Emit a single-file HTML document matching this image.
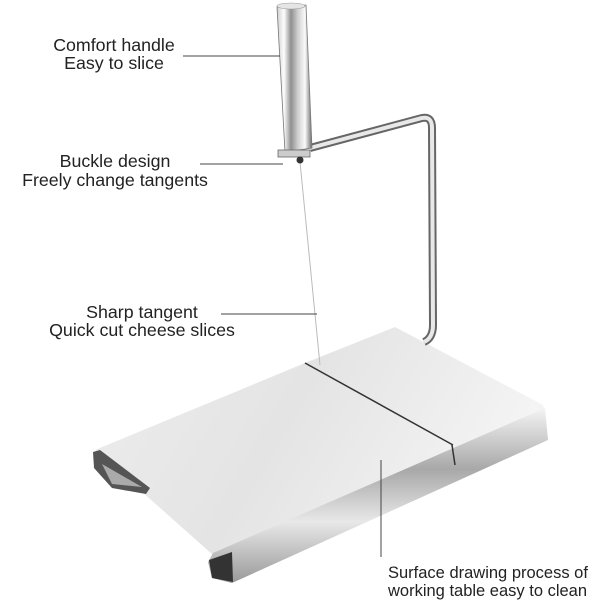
<!DOCTYPE html>
<html><head><meta charset="utf-8"><style>
html,body{margin:0;padding:0;background:#fff;}
svg{display:block;}
text{font-family:"Liberation Sans",sans-serif;font-size:17.8px;fill:#222;}
text.b{font-size:16.5px;}
</style></head><body>
<svg width="600" height="600" viewBox="0 0 600 600">
<defs>
<linearGradient id="cyl" x1="0" x2="1" y1="0" y2="0">
<stop offset="0" stop-color="#cfcfcf"/><stop offset="0.2" stop-color="#fdfdfd"/><stop offset="0.4" stop-color="#909090"/><stop offset="0.6" stop-color="#d0d0d0"/><stop offset="0.8" stop-color="#fafafa"/><stop offset="1" stop-color="#6a6a6a"/>
</linearGradient>
<linearGradient id="top" x1="0" x2="1" y1="0" y2="0.3">
<stop offset="0" stop-color="#ededed"/><stop offset="0.5" stop-color="#e4e4e4"/><stop offset="1" stop-color="#f4f4f4"/>
</linearGradient>
<linearGradient id="roll" x1="0" x2="0" y1="0" y2="1">
<stop offset="0" stop-color="#f4f4f4"/><stop offset="0.35" stop-color="#a8a8a8"/><stop offset="0.65" stop-color="#e8e8e8"/><stop offset="1" stop-color="#999"/>
</linearGradient>
</defs>
<polygon points="95,450 305,363 395,327 543,405 545,412 213,555" fill="url(#top)"/>
<polygon points="213,553 545,408 548,440 232,583 212,578 208,562" fill="url(#roll)"/>
<path d="M209,560 L232,552 L233,582 L212,578 Z" fill="#333"/>
<path d="M93,452 L100,450 L150,488 L146,494 L112,488 L94,468 Z" fill="#555"/>
<path d="M102,464 L142,487 L112,484 Z" fill="#aaa"/>
<line x1="305" y1="363" x2="453" y2="445" stroke="#333" stroke-width="1.5"/>
<line x1="452" y1="445" x2="455" y2="465" stroke="#333" stroke-width="1.5"/>
<line x1="300" y1="162" x2="320" y2="365" stroke="#bbb" stroke-width="1"/>
<path d="M310,148 L422,118 Q432,116 432,128 L433,325 Q433,338 424,342" fill="none" stroke="#666" stroke-width="8"/>
<path d="M310,148 L422,118 Q432,116 432,128 L433,325 Q433,338 424,342" fill="none" stroke="#e8e8e8" stroke-width="4"/>
<path d="M277,7 L306,5 L312,148 L285,152 Z" fill="url(#cyl)" stroke="#777" stroke-width="0.8"/>
<ellipse cx="291" cy="6" rx="14" ry="3" fill="#e5e5e5" stroke="#999" stroke-width="0.6"/>
<rect x="278" y="150" width="32" height="7" fill="#ccc" stroke="#666" stroke-width="0.8"/>
<circle cx="300" cy="160" r="3.5" fill="#333"/>
<text x="114" y="51" text-anchor="middle">Comfort handle</text>
<text x="114" y="69" text-anchor="middle">Easy to slice</text>
<line x1="183" y1="56" x2="280" y2="56" stroke="#444" stroke-width="1"/>
<text x="115" y="167" text-anchor="middle">Buckle design</text>
<text x="115" y="186" text-anchor="middle">Freely change tangents</text>
<line x1="200" y1="164" x2="283" y2="164" stroke="#444" stroke-width="1"/>
<text x="142" y="318" text-anchor="middle">Sharp tangent</text>
<text x="142" y="336" text-anchor="middle">Quick cut cheese slices</text>
<line x1="221" y1="314" x2="317" y2="314" stroke="#444" stroke-width="1"/>
<line x1="381" y1="460" x2="381" y2="557" stroke="#444" stroke-width="1"/>
<text class="b" x="388" y="578">Surface drawing process of</text>
<text class="b" x="388" y="596">working table easy to clean</text>
</svg>
</body></html>
